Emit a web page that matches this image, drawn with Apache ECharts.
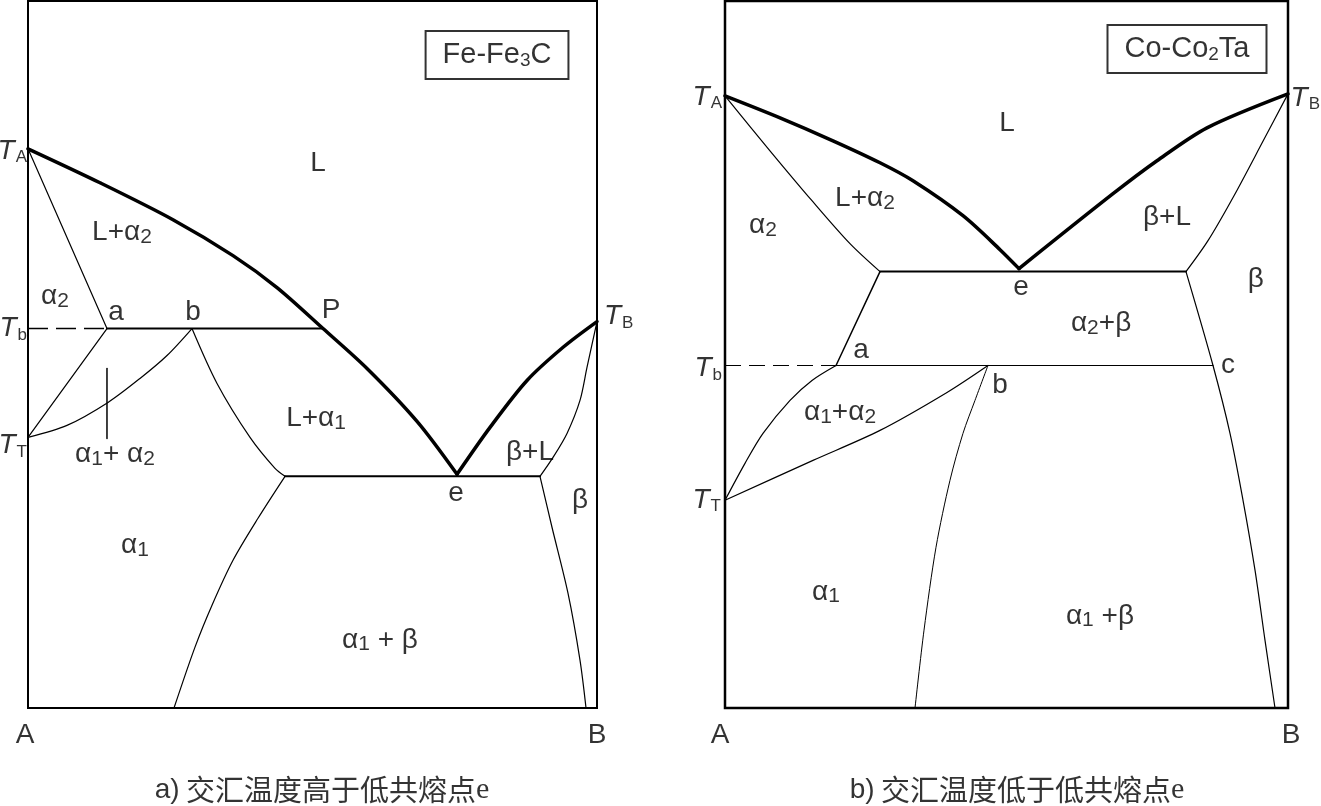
<!DOCTYPE html>
<html>
<head>
<meta charset="utf-8">
<script src="https://cdn.jsdelivr.net/npm/echarts@6/dist/echarts.min.js"></script>
<style>
html,body{margin:0;padding:0;background:#fff;}
#chart{width:1321px;height:806px;}
</style>
</head>
<body>
<div id="chart"></div>
<script>
// Composition axis: 0..100 (% B); temperature axis: relative units 0..708

// ---------- Panel a) Fe-Fe3C ----------
const aLiquidusA = [[0,560],[12.65,526],[25.48,489],[36.03,453],[43.76,421],[51.85,380],[59.58,340],[68.37,287],[75.40,234]];
const aLiquidusB = [[75.40,234],[81.2,281],[87.7,328],[94.2,362],[100,387]];
const aSolidusB = [[100,387],[98.24,341],[97.01,308],[94.73,275],[92.27,251],[89.98,232]];
const aSolvusB = [[89.98,232],[92.09,181],[94.90,115],[97.01,48],[98.07,0]];
const aEutectic = [[45.17,232],[89.98,232]];
const aAlpha1Upper = [[28.82,380],[33.22,325],[39.02,271],[43.41,240],[45.17,232]];
const aAlpha1Lower = [[45.17,232],[40.42,190],[36.03,148],[32.34,103],[29.35,61],[25.66,0]];
const aTbDash = [[0,380],[13.88,380]];
const aTbSolid = [[13.88,380],[51.85,380]];
const aAlpha2Solidus = [[0,560],[13.88,380]];
const aLineATT = [[13.88,380],[0,271]];
const aLineBTT = [[28.82,380],[24.43,353],[19.68,330],[14.06,306],[6.85,283],[0,271]];
const aTick = [[13.88,340],[13.88,270]];

const aPhaseLabels = [
  [50.97,545,'{n|L}'],
  [16.52,476,'{n|L+α}{s|2}'],
  [4.75,412,'{n|α}{s|2}'],
  [15.47,396,'{n|a}'],
  [29.0,396,'{n|b}'],
  [53.25,398,'{n|P}'],
  [50.62,290,'{n|L+α}{s|1}'],
  [88.22,256,'{n|β+L}'],
  [75.22,215,'{n|e}'],
  [97.0,208,'{n|β}'],
  [15.29,254,'{n|α}{s|1}{n|+ α}{s|2}'],
  [18.8,163,'{n|α}{s|1}'],
  [61.86,68,'{n|α}{s|1}{n| + β}']
];
const aTempLabelsLeft = [[-0.18,558,'{t|T}{ts|A}'],[-0.18,380,'{t|T}{ts|b}'],[-0.18,263,'{t|T}{ts|T}']];
const aTempLabelsRight = [[101.23,392,'{t|T}{ts|B}']];
const aEndLabels = [[-0.53,-27,'{n|A}'],[100,-27,'{n|B}']];
const aCaption = [51.67,-82,'{c|a)}{z| 交汇温度高于低共熔点}{e|e}'];
const aSystem = [82.43,654,'{b|Fe-Fe}{bs|3}{b|C}'];

// ---------- Panel b) Co-Co2Ta ----------
const bLiquidusA = [[0,613],[9.77,591],[19.18,568],[27.53,546],[33.39,528],[42.27,493],[48.85,459],[52.22,440]];
const bLiquidusB = [[52.22,440],[68.92,515],[76.73,548],[85.61,581],[100,615]];
const bSolidusB = [[100,615],[95.6,568],[90.41,513],[85.79,468],[81.88,437]];
const bEutectic = [[27.53,437],[81.88,437]];
const bAlpha2Solidus = [[0,613],[7.99,558],[15.45,508],[22.2,465],[27.53,437]];
const bLineA = [[27.53,437],[19.72,343]];
const bTbDash = [[0,343],[19.72,343]];
const bTbSolid = [[19.72,343],[86.68,343]];
const bSolvusB = [[81.88,437],[86.68,343],[89.70,275],[92.01,208],[94.14,138],[95.91,68],[97.69,0]];
const bLineATT = [[19.72,343],[15.45,328],[11.55,308],[6.75,275],[3.55,245],[0,208]];
const bLineBTT = [[46.71,343],[39.43,316],[27.53,278],[15.63,248],[0,208]];
const bAlpha1 = [[46.71,343],[44.4,308],[42.27,275],[39.96,228],[37.48,161],[35.35,78],[33.75,0]];

const bPhaseLabels = [
  [50.09,586,'{n|L}'],
  [24.87,510,'{n|L+α}{s|2}'],
  [6.75,483,'{n|α}{s|2}'],
  [78.5,491,'{n|β+L}'],
  [94.3,429,'{n|β}'],
  [52.58,421,'{n|e}'],
  [66.8,385,'{n|α}{s|2}{n|+β}'],
  [24.16,358,'{n|a}'],
  [48.85,323,'{n|b}'],
  [89.34,343,'{n|c}'],
  [20.43,296,'{n|α}{s|1}{n|+α}{s|2}'],
  [17.94,116,'{n|α}{s|1}'],
  [66.6,92,'{n|α}{s|1}{n| +β}']
];
const bTempLabelsLeft = [[-0.53,612,'{t|T}{ts|A}'],[-0.53,340,'{t|T}{ts|b}'],[-0.71,208,'{t|T}{ts|T}']];
const bTempLabelsRight = [[100.45,611,'{t|T}{ts|B}']];
const bEndLabels = [[-0.89,-27,'{n|A}'],[100.53,-27,'{n|B}']];
const bCaption = [51.87,-82,'{c|b)}{z| 交汇温度低于低共熔点}{e|e}'];
const bSystem = [82.06,660,'{b|Co-Co}{bs|2}{b|Ta}'];

// ---------- styles ----------
const SANS = '"Liberation Sans", Arial, sans-serif';
const rich = {
  n: {fontSize: 28, fontFamily: SANS, color: '#000', lineHeight: 30},
  s: {fontSize: 21, fontFamily: SANS, color: '#000', lineHeight: 11, verticalAlign: 'bottom'},
  t: {fontSize: 28, fontFamily: SANS, fontStyle: 'italic', color: '#000', lineHeight: 30},
  ts: {fontSize: 17, fontFamily: SANS, color: '#000', lineHeight: 10, verticalAlign: 'bottom', padding: [0, 0, 0, 1]},
  b: {fontSize: 29, fontFamily: SANS, color: '#000', lineHeight: 30},
  bs: {fontSize: 19, fontFamily: SANS, color: '#000', lineHeight: 11, verticalAlign: 'bottom'},
  c: {fontSize: 28, fontFamily: SANS, color: '#000', lineHeight: 32},
  z: {fontSize: 29, fontFamily: '"Noto Sans CJK SC", sans-serif', color: '#000', lineHeight: 32},
  e: {fontSize: 30, fontFamily: '"Liberation Serif", serif', color: '#000', lineHeight: 32}
};

const series = [];
function addLine(data, idx, width, opts) {
  series.push(Object.assign({
    type: 'line', xAxisIndex: idx, yAxisIndex: idx, data: data,
    showSymbol: false, symbol: 'none', silent: true, clip: false,
    lineStyle: {color: '#000', width: width, cap: 'round', join: 'round'}
  }, opts || {}));
}
function addLabels(list, idx, align, extraLabel) {
  series.push({
    type: 'scatter', xAxisIndex: idx, yAxisIndex: idx, silent: true, clip: false,
    symbolSize: 1, itemStyle: {color: 'rgba(0,0,0,0)'},
    data: list.map(d => ({value: [d[0], d[1]], name: d[2]})),
    label: Object.assign({
      show: true, position: 'inside', align: align, verticalAlign: 'middle',
      formatter: p => p.name, rich: rich
    }, extraLabel || {})
  });
}

// panel a
addLine(aLiquidusA, 0, 3.5, {smooth: 0.3});
addLine(aLiquidusB, 0, 3.5, {smooth: 0.3});
addLine(aSolidusB, 0, 1.2, {smooth: 0.3});
addLine(aSolvusB, 0, 1.2, {smooth: 0.3});
addLine(aEutectic, 0, 2);
addLine(aAlpha1Upper, 0, 1.2, {smooth: 0.3});
addLine(aAlpha1Lower, 0, 1.2, {smooth: 0.3});
addLine(aTbDash, 0, 1.5, {lineStyle: {color: '#000', width: 1.5, type: [20, 8]}});
addLine(aTbSolid, 0, 2);
addLine(aAlpha2Solidus, 0, 1.2);
addLine(aLineATT, 0, 1.2);
addLine(aLineBTT, 0, 1.2, {smooth: 0.3});
addLine(aTick, 0, 1.5);
addLabels(aPhaseLabels, 0, 'center');
addLabels(aTempLabelsLeft, 0, 'right');
addLabels(aTempLabelsRight, 0, 'left');
addLabels(aEndLabels, 0, 'center');
addLabels([aCaption], 0, 'center');
addLabels([aSystem], 0, 'center', {borderColor: '#000', borderWidth: 2, padding: [9, 17, 9, 17]});

// panel b
addLine(bLiquidusA, 1, 3.5, {smooth: 0.3});
addLine(bLiquidusB, 1, 3.5, {smooth: 0.3});
addLine(bSolidusB, 1, 1.2, {smooth: 0.3});
addLine(bEutectic, 1, 2);
addLine(bAlpha2Solidus, 1, 1.2, {smooth: 0.3});
addLine(bLineA, 1, 1.5);
addLine(bTbDash, 1, 1.2, {lineStyle: {color: '#000', width: 1.2, type: [16, 8]}});
addLine(bTbSolid, 1, 1.2);
addLine(bSolvusB, 1, 1.2, {smooth: 0.3});
addLine(bLineATT, 1, 1.2, {smooth: 0.3});
addLine(bLineBTT, 1, 1.2, {smooth: 0.3});
addLine(bAlpha1, 1, 1, {smooth: 0.3});
addLabels(bPhaseLabels, 1, 'center');
addLabels(bTempLabelsLeft, 1, 'right');
addLabels(bTempLabelsRight, 1, 'left');
addLabels(bEndLabels, 1, 'center');
addLabels([bCaption], 1, 'center');
addLabels([bSystem], 1, 'center', {borderColor: '#000', borderWidth: 2, padding: [9, 17, 9, 17]});

const axisCommonX = {type: 'value', min: 0, max: 100, show: false};
const axisCommonY = {type: 'value', min: 0, max: 708, show: false};

const chart = echarts.init(document.getElementById('chart'), null, {renderer: 'canvas'});
chart.setOption({
  animation: false,
  backgroundColor: '#fff',
  grid: [
    {left: 28, top: 1, width: 569, height: 707, show: true, borderColor: '#000', borderWidth: 2, containLabel: false},
    {left: 725, top: 1, width: 563, height: 707, show: true, borderColor: '#000', borderWidth: 2.5, containLabel: false}
  ],
  xAxis: [Object.assign({gridIndex: 0}, axisCommonX), Object.assign({gridIndex: 1}, axisCommonX)],
  yAxis: [Object.assign({gridIndex: 0}, axisCommonY), Object.assign({gridIndex: 1}, axisCommonY)],
  series: series
});
</script>
</body>
</html>
